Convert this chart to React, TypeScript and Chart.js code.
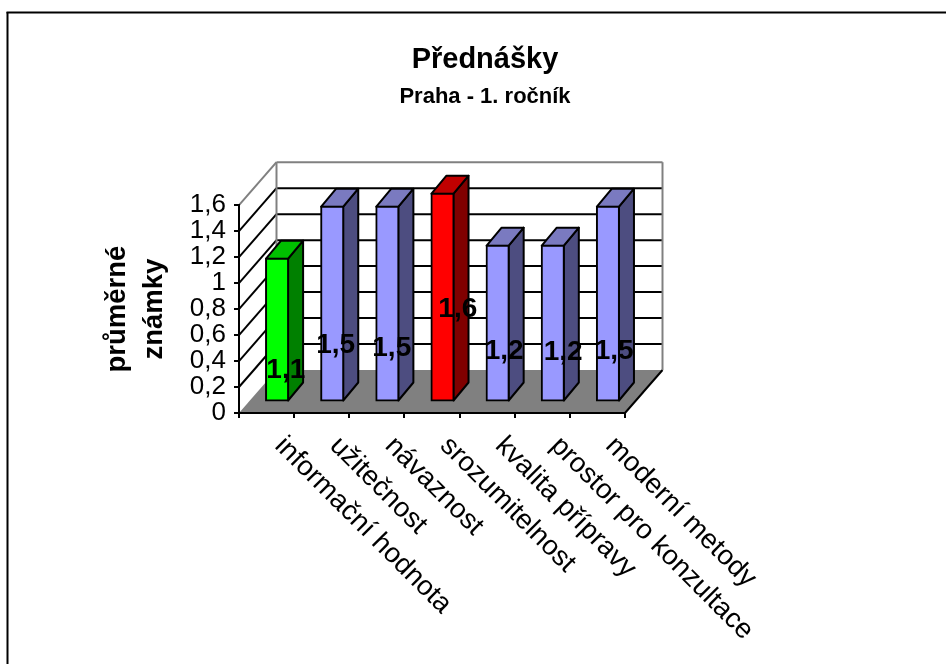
import React, { useEffect, useRef } from "react";
import { Chart, registerables } from "chart.js";

Chart.register(...registerables);

const categories = ["informační hodnota", "užitečnost", "návaznost", "srozumitelnost", "kvalita přípravy", "prostor pro konzultace", "moderní metody"];
const values = [1.1, 1.5, 1.5, 1.6, 1.2, 1.2, 1.5];
const valueLabels = ["1,1", "1,5", "1,5", "1,6", "1,2", "1,2", "1,5"];
const yTickLabels = ["0", "0,2", "0,4", "0,6", "0,8", "1", "1,2", "1,4", "1,6"];
const frontColors = ["#00FF00", "#9999FF", "#9999FF", "#FF0000", "#9999FF", "#9999FF", "#9999FF"];
const sideColors = ["#008000", "#4D4D80", "#4D4D80", "#800000", "#4D4D80", "#4D4D80", "#4D4D80"];
const topColors = ["#00C000", "#7A7AC0", "#7A7AC0", "#C00000", "#7A7AC0", "#7A7AC0", "#7A7AC0"];

// style: manual nudges of the value labels relative to the bar centre
const labelNudgeX = [8.7, 3.5, 4.4, 15.3, 6.5, 10.4, 6.3];
const labelNudgeY = [41, 42, 45, 12.5, 28.5, 29, 48];

const FONT = '"Liberation Sans", Arial, sans-serif';
const WALL_DX = 37.5;
const WALL_DY = -43;
const BAR_SHIFT_X = 10.5;
const BAR_SHIFT_Y = -11.5;
const BAR_DX = 15;
const BAR_DY = -18;

function poly(ctx: CanvasRenderingContext2D, pts: number[][], fill: string | null, stroke: string | null, lw = 2) {
  ctx.beginPath();
  pts.forEach((p, i) => (i ? ctx.lineTo(p[0], p[1]) : ctx.moveTo(p[0], p[1])));
  ctx.closePath();
  if (fill) {
    ctx.fillStyle = fill;
    ctx.fill();
  }
  if (stroke) {
    ctx.strokeStyle = stroke;
    ctx.lineWidth = lw;
    ctx.lineJoin = "round";
    ctx.stroke();
  }
}

function line(ctx: CanvasRenderingContext2D, x1: number, y1: number, x2: number, y2: number, color: string, lw: number) {
  ctx.beginPath();
  ctx.moveTo(x1, y1);
  ctx.lineTo(x2, y2);
  ctx.strokeStyle = color;
  ctx.lineWidth = lw;
  ctx.stroke();
}

const threeD = {
  id: "threeD",
  beforeDraw(chart: any) {
    const { ctx, chartArea: a, scales } = chart;
    const y = scales.y;
    ctx.save();
    ctx.fillStyle = "#fff";
    ctx.fillRect(0, 0, chart.width, chart.height);
    // chart frame
    line(ctx, 7.5, 12, 7.5, chart.height, "#000", 2);
    line(ctx, 6.5, 12.5, chart.width, 12.5, "#000", 2);
    // floor
    poly(ctx, [[a.left, a.bottom], [a.right, a.bottom], [a.right + WALL_DX, a.bottom + WALL_DY], [a.left + WALL_DX, a.bottom + WALL_DY]], "#808080", null);
    line(ctx, a.right, a.bottom, a.right + WALL_DX, a.bottom + WALL_DY, "#000", 2);
    // walls and gridlines
    y.ticks.forEach((t: any) => {
      const py = y.getPixelForValue(t.value);
      if (Math.abs(t.value) < 1e-6) return;
      const isTop = Math.abs(t.value - y.max) < 1e-6;
      const c = isTop ? "#808080" : "#000";
      line(ctx, a.left, py, a.left + WALL_DX, py + WALL_DY, c, 2);
      line(ctx, a.left + WALL_DX, py + WALL_DY, a.right + WALL_DX, py + WALL_DY, c, 2);
    });
    line(ctx, a.left + WALL_DX, a.top + WALL_DY, a.left + WALL_DX, a.bottom + WALL_DY, "#808080", 2);
    line(ctx, a.right + WALL_DX, a.top + WALL_DY, a.right + WALL_DX, a.bottom + WALL_DY, "#808080", 2);
    ctx.restore();
  },
  beforeDatasetsDraw(chart: any) {
    const { ctx } = chart;
    const meta = chart.getDatasetMeta(0);
    ctx.save();
    ctx.translate(BAR_SHIFT_X, BAR_SHIFT_Y);
    meta.data.forEach((bar: any, i: number) => {
      const l = bar.x - bar.width / 2;
      const r = bar.x + bar.width / 2;
      const t = bar.y;
      const b = bar.base;
      poly(ctx, [[r, t], [r + BAR_DX, t + BAR_DY], [r + BAR_DX, b + BAR_DY], [r, b]], sideColors[i], "#000", 2);
      poly(ctx, [[l, t], [l + BAR_DX, t + BAR_DY], [r + BAR_DX, t + BAR_DY], [r, t]], topColors[i], "#000", 2);
    });
    // the library's own bars are drawn inside this translation (front faces)
  },
  afterDatasetsDraw(chart: any) {
    const { ctx, scales, chartArea: a } = chart;
    ctx.restore();
    const meta = chart.getDatasetMeta(0);
    ctx.save();
    ctx.fillStyle = "#000";
    // value labels
    ctx.font = `bold 28px ${FONT}`;
    ctx.textAlign = "center";
    ctx.textBaseline = "middle";
    meta.data.forEach((bar: any, i: number) => {
      const cx = bar.x + BAR_SHIFT_X + labelNudgeX[i];
      const cy = (bar.y + bar.base) / 2 + BAR_SHIFT_Y + labelNudgeY[i];
      ctx.fillText(valueLabels[i], cx, cy);
    });
    // category labels, falling to the right at 45 degrees
    ctx.font = `27.7px ${FONT}`;
    ctx.textAlign = "left";
    categories.forEach((c, i) => {
      ctx.save();
      ctx.translate(scales.x.getPixelForValue(i) + 12.5, a.bottom + 28.5);
      ctx.rotate(Math.PI / 4);
      ctx.fillText(c, 0, 0);
      ctx.restore();
    });
    ctx.restore();
  },
};

export default function App() {
  const ref = useRef<HTMLCanvasElement>(null);
  useEffect(() => {
    const chart = new Chart(ref.current as HTMLCanvasElement, {
      type: "bar",
      plugins: [threeD],
      data: {
        labels: categories,
        datasets: [
          {
            data: values,
            backgroundColor: frontColors,
            borderColor: "#000",
            borderWidth: 2,
            borderSkipped: false,
            inflateAmount: 1,
            categoryPercentage: 1,
            barPercentage: 0.4,
            clip: false,
          } as any,
        ],
      },
      options: {
        animation: false,
        responsive: false,
        devicePixelRatio: 1,
        layout: { padding: { left: 24, right: 0, top: 0, bottom: 0 } },
        plugins: {
          legend: { display: false },
          tooltip: { enabled: false },
          title: {
            display: true,
            text: "Přednášky",
            color: "#000",
            font: { family: FONT, size: 29, weight: "bold", lineHeight: 1.2 },
            padding: { top: 43, bottom: 3 },
          },
          subtitle: {
            display: true,
            text: "Praha - 1. ročník",
            color: "#000",
            font: { family: FONT, size: 22, weight: "bold", lineHeight: 1.2 },
            padding: { top: 3, bottom: 95 },
          },
        },
        scales: {
          x: {
            type: "category",
            offset: true,
            afterFit(s: any) {
              s.height = 251;
            },
            grid: { display: true, offset: true, drawOnChartArea: false, color: "#000", lineWidth: 2, tickLength: 5 },
            border: { display: true, color: "#000", width: 2 },
            ticks: { display: false },
          },
          y: {
            min: 0,
            max: 1.6,
            afterFit(s: any) {
              s.width = 215;
            },
            grid: { display: true, drawOnChartArea: false, color: "#000", lineWidth: 2, tickLength: 5 },
            border: { display: true, color: "#000", width: 2 },
            title: {
              display: true,
              text: ["průměrné", "známky"],
              color: "#000",
              font: { family: FONT, size: 27.5, weight: "bold", lineHeight: 1.35 },
              padding: { top: 75, bottom: 0 },
            },
            ticks: {
              stepSize: 0.2,
              color: "#000",
              padding: 8,
              autoSkip: false,
              font: { family: FONT, size: 26 },
              callback: (_v: any, i: number) => yTickLabels[i],
            },
          },
          // empty axis that reserves the free band on the right of the plot
          spacer: {
            position: "right",
            display: true,
            afterFit(s: any) {
              s.width = 321;
            },
            grid: { display: false },
            border: { display: false },
            ticks: { display: false },
          },
        },
      },
    } as any);
    return () => chart.destroy();
  }, []);
  return <canvas ref={ref} width={946} height={664} style={{ position: "absolute", left: 0, top: 0, display: "block" }} />;
}
